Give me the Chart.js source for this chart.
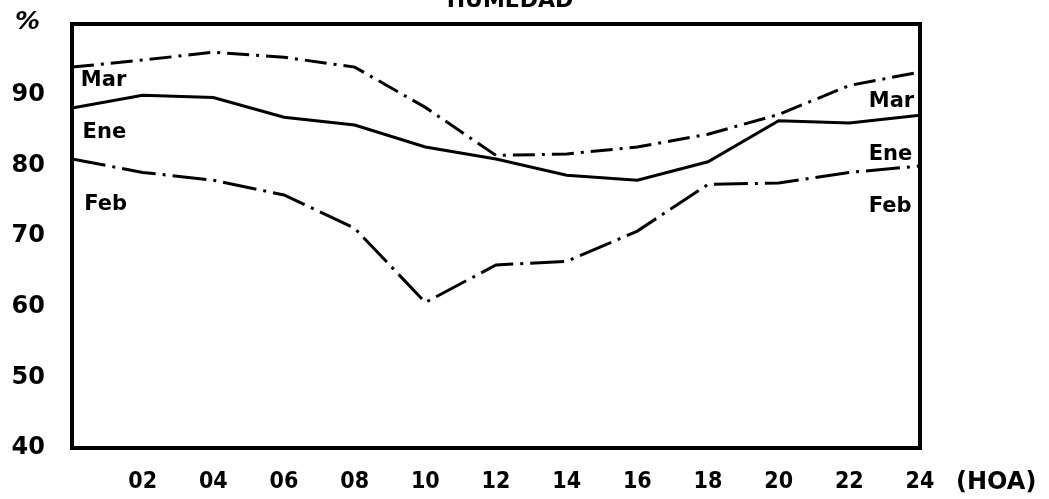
<!DOCTYPE html>
<html>
<head>
<meta charset="utf-8">
<title>Humedad</title>
<script src="https://cdn.jsdelivr.net/npm/chart.js@4/dist/chart.umd.min.js"></script>
<style>
  html, body { margin: 0; padding: 0; background: #fff; }
  #wrap { width: 1049px; height: 499px; }
</style>
</head>
<body>
<div id="wrap"><canvas id="humChart" width="1049" height="499"></canvas></div>
<script>
'use strict';

// hours of the day (HOA)
const hours = [0, 2, 4, 6, 8, 10, 12, 14, 16, 18, 20, 22, 24];

// relative humidity (%)
const mar = [93.9, 94.9, 96.0, 95.3, 93.9, 88.2, 81.4, 81.6, 82.6, 84.4, 87.2, 91.3, 93.2];
const ene = [88.1, 89.9, 89.6, 86.8, 85.7, 82.6, 80.9, 78.6, 77.9, 80.5, 86.3, 86.0, 87.1];
const feb = [80.9, 79.0, 77.9, 75.8, 71.1, 60.6, 65.9, 66.4, 70.7, 77.3, 77.5, 79.0, 79.9];

const yTicks = [40, 50, 60, 70, 80, 90];

const toPoints = vals => vals.map((v, i) => ({ x: hours[i], y: v }));

const FONT = '"DejaVu Sans", sans-serif';
const FONT_NARROW = '"DejaVu Sans Condensed", "DejaVu Sans", sans-serif';

// month labels written inside the frame: [text, hour, value]
const curveLabels = [
    ['Mar', 0.25, 92.0], ['Ene', 0.3, 84.6], ['Feb', 0.35, 74.4],
    ['Mar', 22.55, 89.0], ['Ene', 22.55, 81.5], ['Feb', 22.55, 74.2]
];

// frame, title, % sign, (HOA) and the curve names
const decorations = {
    id: 'decorations',
    afterDraw(chart) {
        const c = chart.ctx;
        const a = chart.chartArea;
        const xs = chart.scales.x;
        const ys = chart.scales.y;
        c.save();
        c.strokeStyle = '#000';
        c.lineWidth = 4;
        c.strokeRect(a.left, a.top, a.right - a.left, a.bottom - a.top);

        c.fillStyle = '#000';
        c.font = 'bold 22px ' + FONT;
        c.textAlign = 'center';
        c.textBaseline = 'alphabetic';
        c.fillText('HUMEDAD', 510, 7);

        c.font = 'italic bold 25px ' + FONT;
        c.textAlign = 'left';
        c.fillText('%', 15, 29);

        c.font = 'bold 24px ' + FONT;
        c.textBaseline = 'middle';
        c.fillText('(HOA)', 956, 483);

        c.font = 'bold 21px ' + FONT;
        curveLabels.forEach(([txt, h, v]) => {
            c.fillText(txt, xs.getPixelForValue(h), ys.getPixelForValue(v));
        });
        c.restore();
    }
};

const ctx = document.getElementById('humChart');
const humChart = new Chart(ctx, {
    type: 'line',
    data: {
        datasets: [{
            label: 'Mar',
            data: toPoints(mar),
            borderColor: '#000',
            borderWidth: 3,
            borderDash: [22, 7, 3, 7],
            pointRadius: 0,
            tension: 0
        }, {
            label: 'Ene',
            data: toPoints(ene),
            borderColor: '#000',
            borderWidth: 3,
            pointRadius: 0,
            tension: 0
        }, {
            label: 'Feb',
            data: toPoints(feb),
            borderColor: '#000',
            borderWidth: 3,
            borderDash: [34, 7, 3, 7],
            pointRadius: 0,
            tension: 0
        }]
    },
    options: {
        responsive: false,
        animation: false,
        layout: { padding: { top: 24, right: 129, left: 0, bottom: 0 } },
        plugins: {
            legend: { display: false },
            tooltip: { enabled: false },
            title: { display: false }
        },
        scales: {
            x: {
                type: 'linear',
                min: 0,
                max: 24,
                grid: { display: false, drawTicks: false },
                border: { display: false },
                afterFit: scale => {
                    scale.height = 51;
                    scale.paddingLeft = 0;
                    scale.paddingRight = 0;
                },
                afterBuildTicks: scale => {
                    scale.ticks = hours.slice(1).map(h => ({ value: h }));
                },
                ticks: {
                    color: '#000',
                    padding: 20,
                    font: { family: FONT_NARROW, size: 23, weight: 'bold' },
                    callback: v => String(v).padStart(2, '0')
                }
            },
            y: {
                min: 40,
                max: 100,
                grid: { display: false, drawTicks: false },
                border: { display: false },
                afterFit: scale => {
                    scale.width = 72;
                    scale.paddingTop = 0;
                    scale.paddingBottom = 0;
                },
                afterBuildTicks: scale => {
                    scale.ticks = yTicks.map(v => ({ value: v }));
                },
                ticks: {
                    color: '#000',
                    padding: 27,
                    font: { family: FONT, size: 24, weight: 'bold' }
                }
            }
        }
    },
    plugins: [decorations]
});
</script>
</body>
</html>
